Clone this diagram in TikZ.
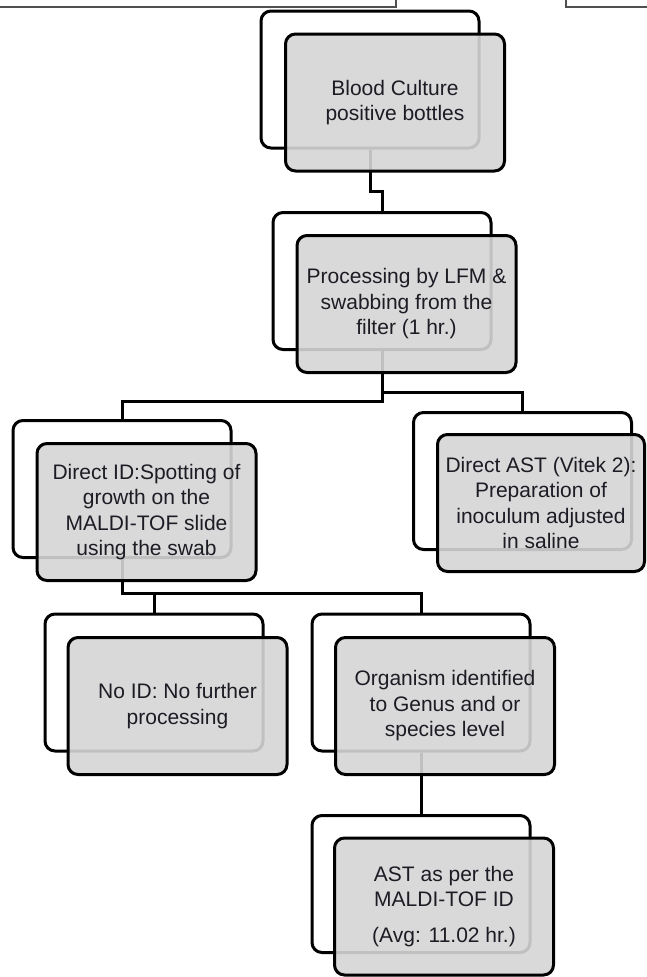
\documentclass[tikz,border=0pt]{standalone}
\usepackage{fontspec}
\setmainfont{Liberation Sans}
\definecolor{frontfill}{RGB}{213,213,213}
\definecolor{txtcol}{RGB}{28,28,36}
\definecolor{thinline}{RGB}{80,80,80}
\tikzset{
  backbox/.style={draw=black, line width=3pt, rounded corners=10pt,
    minimum width=218pt, minimum height=137pt, inner sep=0pt},
  frontbox/.style={draw=black, line width=3pt, rounded corners=10pt,
    fill=frontfill, fill opacity=0.9, text opacity=1,
    minimum width=219pt, minimum height=137pt, inner sep=0pt,
    align=center, text=txtcol, font=\fontsize{21pt}{25.5pt}\selectfont},
  link/.style={draw=black, line width=3pt},
  cropline/.style={draw=thinline, line width=1.2pt}
}
\begin{document}
\begin{tikzpicture}[x=1pt,y=-1pt]
\useasboundingbox (0,0) rectangle (646,977);
% partial boxes at the top edge
\draw[cropline] (-5,7) -- (396,7) -- (396,-5);
\draw[cropline] (566,-5) -- (566,7) -- (655,7);
% back boxes
\node[backbox] (b1) at (370,79.5) {};
\node[backbox] (b2) at (382,281) {};
\node[backbox] (b3) at (122,489) {};
\node[backbox] (b4) at (522.5,481) {};
\node[backbox] (b5) at (154,682.5) {};
\node[backbox] (b6) at (421,682.5) {};
\node[backbox] (b7) at (421,884) {};
% junction levels
\coordinate (j0) at (0,191);
\coordinate (j1) at (0,401);
\coordinate (j2) at (0,392);
\coordinate (j3) at (0,593);
% connectors
\draw[link] (b1.south) -- (b1.south |- j0) -| (b2.north);
\draw[link] (b2.south) -- (b2.south |- j1) -| (b3.north);
\draw[link] (b2.south |- j2) -| (b4.north);
\draw[link] (b3.south) -- (b3.south |- j3) -| (b6.north);
\draw[link] (b5.north |- j3) -- (b5.north);
\draw[link] (b6.south) -- (b7.north);
% front boxes
\node[frontbox] (f1) at (395,102.5) {Blood Culture\\positive bottles};
\node[frontbox] (f2) at (406.5,304) {Processing by LFM \&\\swabbing from the\\filter (1 hr.)};
\node[frontbox] (f3) at (146.5,512) {Direct ID:Spotting of\\growth on the\\MALDI-TOF slide\\using the swab};
\node[frontbox, minimum width=207pt] (f4) at (541,503) {Direct AST (Vitek 2):\\Preparation of\\inoculum adjusted\\in saline};
\node[frontbox] (f5) at (177.5,706) {No ID: No further\\processing};
\node[frontbox] (f6) at (445,706) {Organism identified\\to Genus and or\\species level};
\node[frontbox] (f7) at (444,906.5) {AST as per the\\MALDI-TOF ID\\[10.5pt](Avg: 11.02 hr.)};
\end{tikzpicture}
\end{document}
